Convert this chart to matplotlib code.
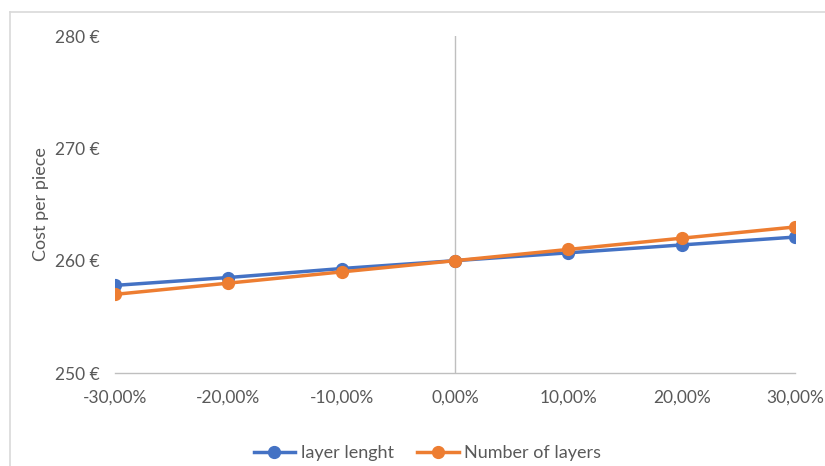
import matplotlib
matplotlib.use("Agg")
import matplotlib.pyplot as plt
from matplotlib.lines import Line2D

# cost sensitivity data
variation = [-0.30, -0.20, -0.10, 0.00, 0.10, 0.20, 0.30]
layer_length = [257.8, 258.5, 259.3, 260.0, 260.7, 261.4, 262.1]
num_layers = [257.0, 258.0, 259.0, 260.0, 261.0, 262.0, 263.0]
y_ticks = [250, 260, 270, 280]

blue = "#4472c4"
orange = "#ed7d31"
grey_txt = "#595959"

plt.rcParams["font.family"] = ["Lato", "DejaVu Sans"]

fig = plt.figure(figsize=(8.25, 4.66), dpi=100)
ax = fig.add_axes([115 / 825, 1 - 373 / 466, 680 / 825, 337 / 466])

ax.plot(variation, layer_length, color=blue, lw=2.5, marker="o", ms=8.5, label="layer lenght", zorder=3)
ax.plot(variation, num_layers, color=orange, lw=2.5, marker="o", ms=8.5, label="Number of layers", zorder=4)

ax.axvline(0, color="#bfbfbf", lw=1, zorder=1)

ax.set_xlim(-0.30, 0.30)
ax.set_ylim(250, 280)
ax.set_yticks(y_ticks)
ax.set_yticklabels([f"{v} €" for v in y_ticks])
ax.set_xticks(variation)
ax.set_xticklabels([f"{v * 100:.2f}%".replace(".", ",") for v in variation])
ax.tick_params(axis="both", length=0, labelsize=12.5, colors=grey_txt)
ax.tick_params(axis="y", pad=11)
ax.tick_params(axis="x", pad=12)

for s in ["top", "right", "left"]:
    ax.spines[s].set_visible(False)
ax.spines["bottom"].set_color("#bfbfbf")
ax.spines["bottom"].set_linewidth(1)

ax.set_ylabel("Cost per piece", fontsize=13, color=grey_txt, labelpad=4)

handles = [
    Line2D([], [], color=blue, lw=2.5, marker="o", ms=8.5),
    Line2D([], [], color=orange, lw=2.5, marker="o", ms=8.5),
]
fig.legend(handles, ["layer lenght", "Number of layers"], loc="center",
           bbox_to_anchor=(0.518, 1 - 453 / 466), ncol=2, frameon=False,
           fontsize=13, labelcolor=grey_txt, handlelength=2.3,
           columnspacing=1.3, handletextpad=0.3)

# outer chart frame
fig.add_artist(Line2D([10 / 825, 1], [1 - 12 / 466, 1 - 12 / 466], color="#d9d9d9", lw=1.2))
fig.add_artist(Line2D([10 / 825, 10 / 825], [0, 1 - 12 / 466], color="#d9d9d9", lw=1.2))

fig.savefig("out.png", dpi=100)
